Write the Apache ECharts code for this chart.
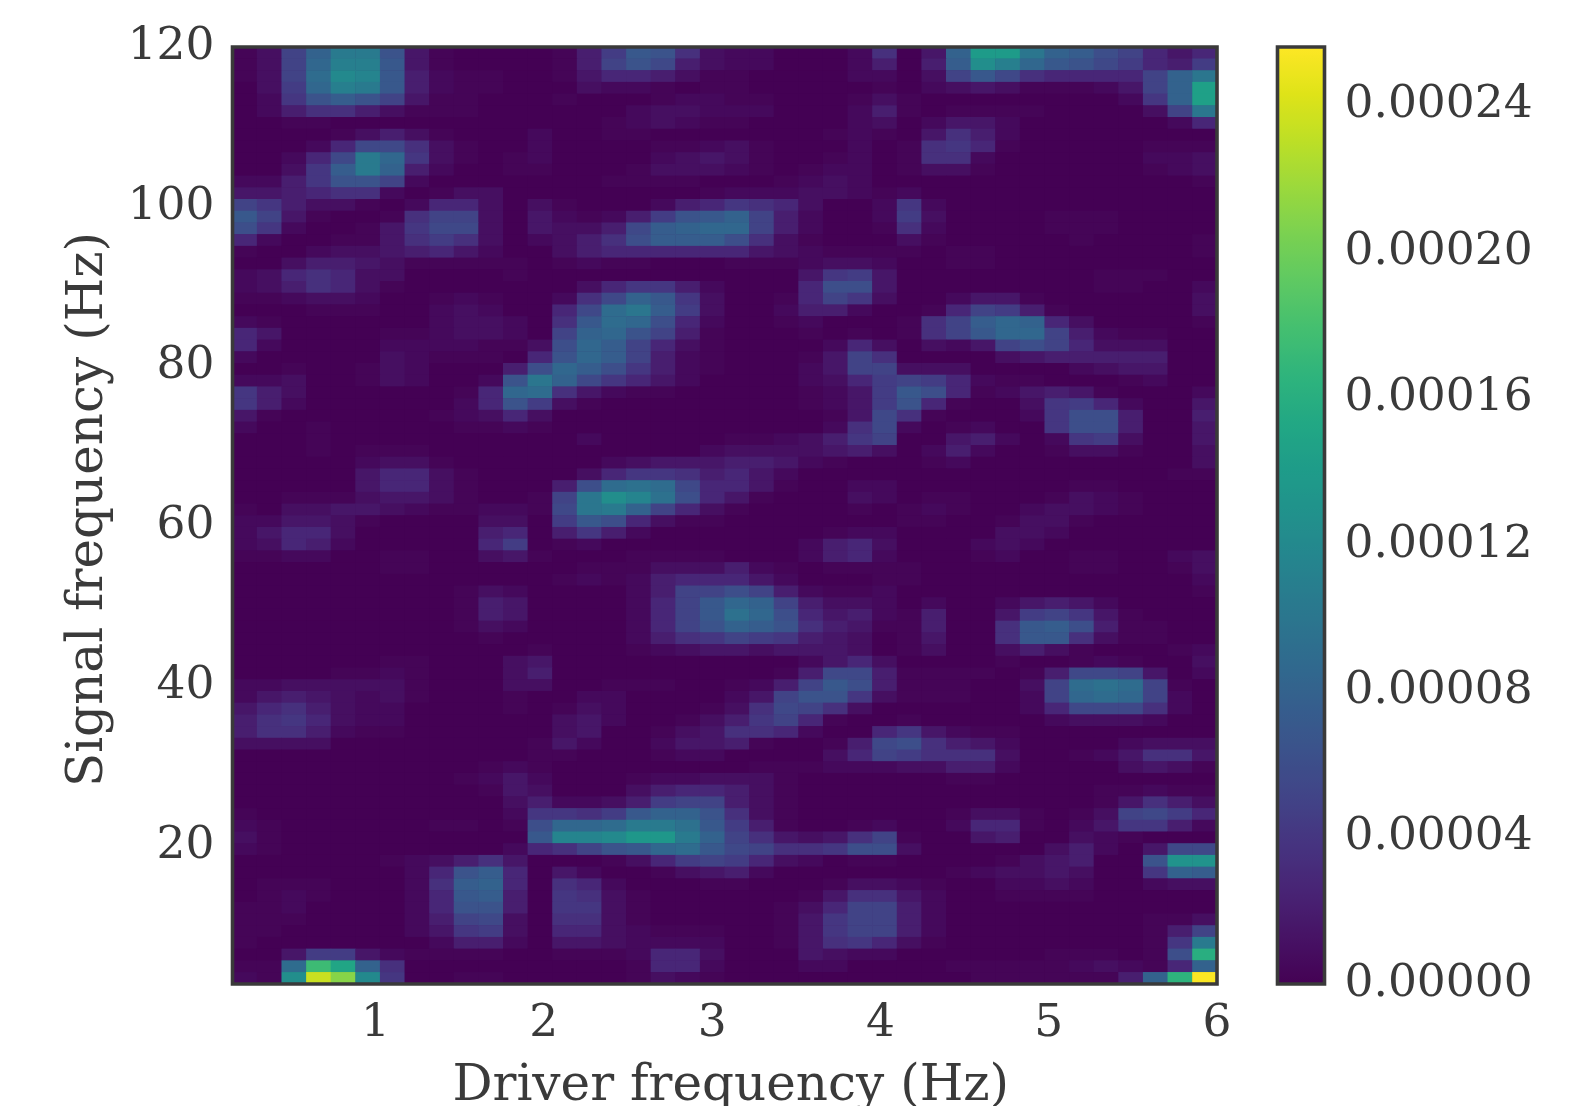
<!DOCTYPE html>
<html>
<head>
<meta charset="utf-8">
<style>html,body{margin:0;padding:0;background:#fff}#c{width:1578px;height:1106px}</style>
<script src="https://cdn.jsdelivr.net/npm/echarts@6/dist/echarts.min.js"></script>
</head>
<body>
<div id="c"></div>
<script>
// Cell power, top row first, one character per column.
// Each level of LEVELS is 0.000005; the faintest levels use the calibrated table below.
const LEVELS = "0123456789abcdefghijklmnopqrstuvwxyzABCDEFGHIJKLMNOPQ";
const LEVEL_UNIT = 0.000005;
const faintLevels = [0, 0.5, 1.2, 2, 3, 4.2, 5.5];
const rowLevels = [
"13aglld410 000159ed73 220002704g sskgfca646",
"13ahmme410 00015adb53 220002505f pmhedb9659",
"13aione521 1001466531 100002203a eb76666agk",
"039hmle521 1000322101 1000001023 4311124agt",
"028dfda411 0001000122 1100013100 00000028gt",
"0257753111 0000002332 2200025101 11100003ak",
"0011000000 0000012321 1000023024 4200000026",
"0000135310 0020011000 0000121047 5200000000",
"00026bb731 0020000112 3100020178 6100000111",
"0026blh831 0120000234 3100120177 2000000223",
"0038flg520 0110001333 2101220133 1000000123",
"2258dda200 0000011110 0012320000 0000000001",
"4456772013 3000000001 2223321200 0000000000",
"a853310266 3031000256 8763002820 0000000000",
"ea410017aa 30421259de ga52002930 0001110000",
"c8200148bb 304335bfgh ha52001720 0001110000",
"6200114797 302357cfff c731000310 0000100001",
"1002334564 2003566666 6432111101 1000000001",
"0035543111 1101211000 1112332001 1000000000",
"2367633000 0100000000 0004894000 0000011100",
"2357631000 0000368852 0006cc4000 0000011002",
"1123320012 10027bge83 0016a83002 4410000003",
"0001110023 2006bikf93 0025520016 a951000003",
"2100000023 3207eihc62 001200017a fhg6300001",
"6400001123 320aghda51 000101017a ehha521100",
"6200002222 113chfa631 0000263032 4aca633300",
"2000003211 106dhfa521 00014a7000 0345555500",
"0010013200 05chfc8521 00024aa333 0000234400",
"2230013200 2dkgb86420 0002369a96 2110001200",
"8530000001 6hi7421100 0001249ec6 1245410002",
"8520000002 6d93100000 0001249d61 0038962004",
"4100000012 3630000000 000014b710 0028cc5005",
"2001000001 1210000000 000027b201 2008cc5004",
"0001000000 0000200000 112358a004 5202893004",
"0001011100 0000000002 3333453025 2001331003",
"0000023310 0000023444 5542100012 0000000003",
"0000046631 0000368875 6420000000 0000000011",
"0000046631 0005cijib6 6410022000 0000110000",
"0011134431 001akpnjc6 4100032011 0001321000",
"1033443211 221bklga63 1000010121 0023321000",
"2244310000 3309ec6311 0000000110 0133100000",
"2466300000 5605852000 0000122000 0332000000",
"2365200000 6901200000 0002563000 2320000000",
"1122001100 3410001111 0002562000 1200110023",
"0000001100 0000111333 5210111100 0000110013",
"0000000000 0001212566 6420001100 0000000002",
"0000000001 32000025aa ca52112000 0000000001",
"0000000001 54000026ae hga5332020 0245420000",
"0000000001 54000026ae jhc6452150 049a841000",
"0000000001 32000026ad gfd7541150 07efc51100",
"0000000000 1000002578 a985430140 07ee731100",
"0000000000 0010001234 4344430130 0353100012",
"0000001100 0340000000 0002463000 0100121003",
"0000112100 0350000000 0015bb5111 1015bba402",
"2233333100 0330011100 125aec5111 003aijia10",
"2454323100 0100220000 24add83111 002ahiha20",
"4675322000 0101320001 37ba730000 0026bbb720",
"5786322000 0003420013 58a6100100 0002333200",
"5775211000 0003400134 7762006842 1100000000",
"3333000000 0014200244 510015bc75 4200002333",
"0000000000 0011000122 000036a977 7300124774",
"0000000000 1210000000 0111222335 5200003431",
"0000000001 2420001223 3310000001 1000000000",
"0000000000 1430003566 5310000000 0000011211",
"0000000000 03522359aa 5310000000 0000014753",
"1000000000 028879eggd 7310000001 331013ab96",
"2100000011 01chhillje 9510012002 6610248852",
"3100000000 00ennorrlg a74347a100 4500321000",
"2100000000 0267adehie ba778cc300 00035204bb",
"0000001235 740001369a 9632011000 0134500dqq",
"000000026d f604200134 5200000001 23343008gf",
"011100027f g607620001 1000133210 0223200233",
"012100026e f508731000 0001477420 0111100000",
"112000026d d508831000 00136aa520 0000000000",
"111000025a b307731000 00148aa520 0000000113",
"1100000248 9306632111 00148aa520 000000015a",
"1000000025 5204432222 0014786310 000000018l",
"0049942111 1001112663 0004322000 00011101cw",
"11izug7000 0000001662 0002200001 111123216g",
"21pLGo8001 1000001321 0000000000 1111115gxP"
];
const xTicks = [1, 2, 3, 4, 5, 6];
const yTicks = [20, 40, 60, 80, 100, 120];
const barTicks = [0, 0.00004, 0.00008, 0.00012, 0.00016, 0.0002, 0.00024];
const xRange = [0.15, 6];
const yRange = [2.75, 120];
const barMax = 0.000256;
const viridis = ["#440154","#471365","#482475","#463480","#414487","#3b528b","#355f8d","#2f6c8e","#2a788e","#25848e","#21918c","#1e9c89","#22a884","#2fb47c","#44bf70","#5ec962","#7ad151","#9bd93c","#bddf26","#dfe318","#fde725"];

const rows = rowLevels.map(r => r.replace(/ /g, ""));
const levelValue = ch => {
  const i = LEVELS.indexOf(ch);
  return (i < faintLevels.length ? faintLevels[i] : i) * LEVEL_UNIT;
};
const cells = [];
rows.forEach((r, y) => { for (let x = 0; x < r.length; x++) cells.push([x, y, levelValue(r[x])]); });
const colNames = rows[0].split("").map((_, i) => String(i));
const rowNames = rows.map((_, i) => String(i));

const INK = "#3a3a3a";
const FONT = "DejaVu Serif";
const G = {left: 232.5, top: 47, width: 984.5, height: 937};
const B = {left: 1277.5, top: 47, width: 47, height: 937};
const labelStyle = {color: INK, fontFamily: FONT, fontSize: 45.5};

const chart = echarts.init(document.getElementById("c"), null, {renderer: "canvas"});
chart.setOption({
  animation: false,
  backgroundColor: "#fff",
  grid: [
    {left: G.left, top: G.top, width: G.width, height: G.height, containLabel: false, outerBoundsMode: "none",
     show: true, borderWidth: 0, backgroundColor: viridis[0]},
    {left: B.left, top: B.top, width: B.width, height: B.height, containLabel: false, outerBoundsMode: "none"}
  ],
  xAxis: [
    {gridIndex: 0, type: "category", data: colNames, show: false},
    {gridIndex: 0, type: "value", min: xRange[0], max: xRange[1], position: "bottom",
     axisLine: {show: false}, splitLine: {show: false},
     axisTick: {show: false, customValues: xTicks},
     axisLabel: {customValues: xTicks, margin: 17, hideOverlap: false, showMinLabel: true, showMaxLabel: true, ...labelStyle},
     name: "Driver frequency (Hz)", nameLocation: "middle", nameGap: 78,
     nameTextStyle: {color: INK, fontFamily: FONT, fontSize: 50, padding: [0, 0, 0, 12]}},
    {gridIndex: 1, type: "category", data: ["0"], show: false}
  ],
  yAxis: [
    {gridIndex: 0, type: "category", data: rowNames, inverse: true, show: false},
    {gridIndex: 0, type: "value", min: yRange[0], max: yRange[1], position: "left",
     axisLine: {show: false}, splitLine: {show: false},
     axisTick: {show: false, customValues: yTicks},
     axisLabel: {customValues: yTicks, margin: 18, showMaxLabel: true, padding: [2, 0, 0, 0], ...labelStyle},
     name: "Signal frequency (Hz)", nameLocation: "middle", nameGap: 118,
     nameTextStyle: {color: INK, fontFamily: FONT, fontSize: 50, padding: [0, 0, 0, 12]}},
    {gridIndex: 1, type: "value", min: 0, max: barMax, position: "right",
     axisLine: {show: false}, splitLine: {show: false},
     axisTick: {show: false, customValues: barTicks},
     axisLabel: {customValues: barTicks, margin: 20, showMinLabel: true, formatter: v => v.toFixed(5), ...labelStyle}}
  ],
  visualMap: {
    type: "continuous", seriesIndex: 0, min: 0, max: barMax, calculable: false, realtime: false,
    left: B.left, top: B.top, itemWidth: B.width, itemHeight: B.height, padding: 0,
    text: null, inRange: {color: viridis}, hoverLink: false
  },
  series: [{
    type: "heatmap", xAxisIndex: 0, yAxisIndex: 0, data: cells, silent: true,
    progressive: 0, emphasis: {disabled: true}
  }],
  graphic: [
    {type: "rect", z: 100, silent: true, shape: {x: G.left, y: G.top, width: G.width, height: G.height},
     style: {fill: "none", stroke: INK, lineWidth: 3.6}},
    {type: "rect", z: 100, silent: true, shape: {x: B.left, y: B.top, width: B.width, height: B.height},
     style: {fill: "none", stroke: INK, lineWidth: 3.6}}
  ]
});
</script>
</body>
</html>
